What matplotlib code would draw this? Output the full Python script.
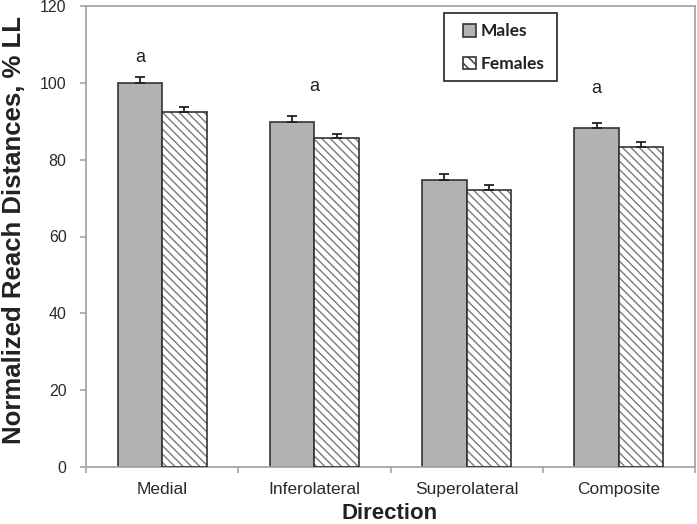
import matplotlib
matplotlib.use("Agg")
import matplotlib.pyplot as plt
from matplotlib.patches import Rectangle
import numpy as np

categories = ["Medial", "Inferolateral", "Superolateral", "Composite"]
males = [100.0, 89.8, 74.8, 88.3]
females = [92.5, 85.6, 72.1, 83.4]
males_err = [1.4, 1.5, 1.4, 1.3]
females_err = [1.1, 1.2, 1.3, 1.1]
sig_labels = ["a", "a", "", "a"]
sig_y = [106.5, 99.0, 0, 98.6]
sig_x_offset = [-0.146, 0.0, 0.0, -0.146]
yticks = [0, 20, 40, 60, 80, 100, 120]

fig = plt.figure(figsize=(6.97, 5.24), dpi=100)
ax = fig.add_axes([86 / 697, 1 - 467 / 524, (695 - 86) / 697, (467 - 6) / 524])

x = np.arange(len(categories))
w = 0.292
male_color = "#b2b2b2"
edge = "#333333"

ax.bar(x - w / 2, males, w, color=male_color, edgecolor=edge, linewidth=1.2, zorder=2)
ax.bar(x + w / 2, females, w, color="white", edgecolor="#7a7a7a", linewidth=0,
       hatch="\\\\\\\\", zorder=2)
ax.bar(x + w / 2, females, w, fill=False, edgecolor=edge, linewidth=1.2, zorder=3)

ax.errorbar(x - w / 2, males, yerr=[np.zeros(len(males)), males_err], fmt="none",
            ecolor="#222222", elinewidth=1.3, capsize=3.5, capthick=1.3, zorder=4)
ax.errorbar(x + w / 2, females, yerr=[np.zeros(len(females)), females_err], fmt="none",
            ecolor="#222222", elinewidth=1.3, capsize=3.5, capthick=1.3, zorder=4)

for i, lab in enumerate(sig_labels):
    if lab:
        ax.text(x[i] + sig_x_offset[i], sig_y[i], lab, ha="center", va="center",
                fontsize=13, family="Liberation Sans", color="#222222")

ax.set_xlim(-0.5, len(categories) - 0.5)
ax.set_ylim(0, 120)
ax.set_yticks(yticks)
ax.set_yticklabels([str(t) for t in yticks], fontsize=11.5, family="Liberation Sans",
                   color="#2a2a2a")
ax.set_xticks(x)
ax.set_xticklabels(categories, fontsize=12.5, family="Liberation Sans", color="#2a2a2a")
ax.set_xticks(np.arange(-0.5, len(categories), 1.0), minor=True)
ax.tick_params(axis="x", which="major", length=0, pad=11)
ax.tick_params(axis="x", which="minor", length=4, width=1.2, color="#a6a6a6", direction="out")
ax.tick_params(axis="y", length=4, width=1.2, color="#a6a6a6", direction="out", pad=10)

for s in ax.spines.values():
    s.set_color("#a6a6a6")
    s.set_linewidth(1.3)

fig.text(390 / 697, 1 - 519 / 524, "Direction", ha="center", va="baseline",
         fontsize=16, fontweight="bold", family="Liberation Sans", color="#222222")
fig.text(14 / 697, 1 - 230 / 524, "Normalized Reach Distances, % LL", rotation=90,
         ha="center", va="center", fontsize=18.5, fontweight="bold",
         family="Liberation Sans", color="#222222")

# legend
fig.patches.append(Rectangle((444 / 697, 1 - 81 / 524), (557 - 444) / 697, (81 - 13) / 524,
                             transform=fig.transFigure, fill=False, edgecolor="#222222",
                             linewidth=1.2, zorder=10))
h1 = Rectangle((0, 0), 1, 1, facecolor=male_color, edgecolor=edge, linewidth=1.2)
h2 = Rectangle((0, 0), 1, 1, facecolor="white", edgecolor=edge, linewidth=1.2, hatch="\\\\\\")
leg = fig.legend([h1, h2], ["Males", "Females"], loc="upper left",
                 bbox_to_anchor=(460 / 697, 1 - 20 / 524), frameon=False,
                 prop={"family": "Lato", "weight": "bold", "size": 12.5},
                 handlelength=0.75, handleheight=0.75, handletextpad=0.25,
                 labelspacing=0.95, borderpad=0.2, borderaxespad=0)
for t in leg.get_texts():
    t.set_color("#222222")

fig.savefig("out.png", dpi=100)
